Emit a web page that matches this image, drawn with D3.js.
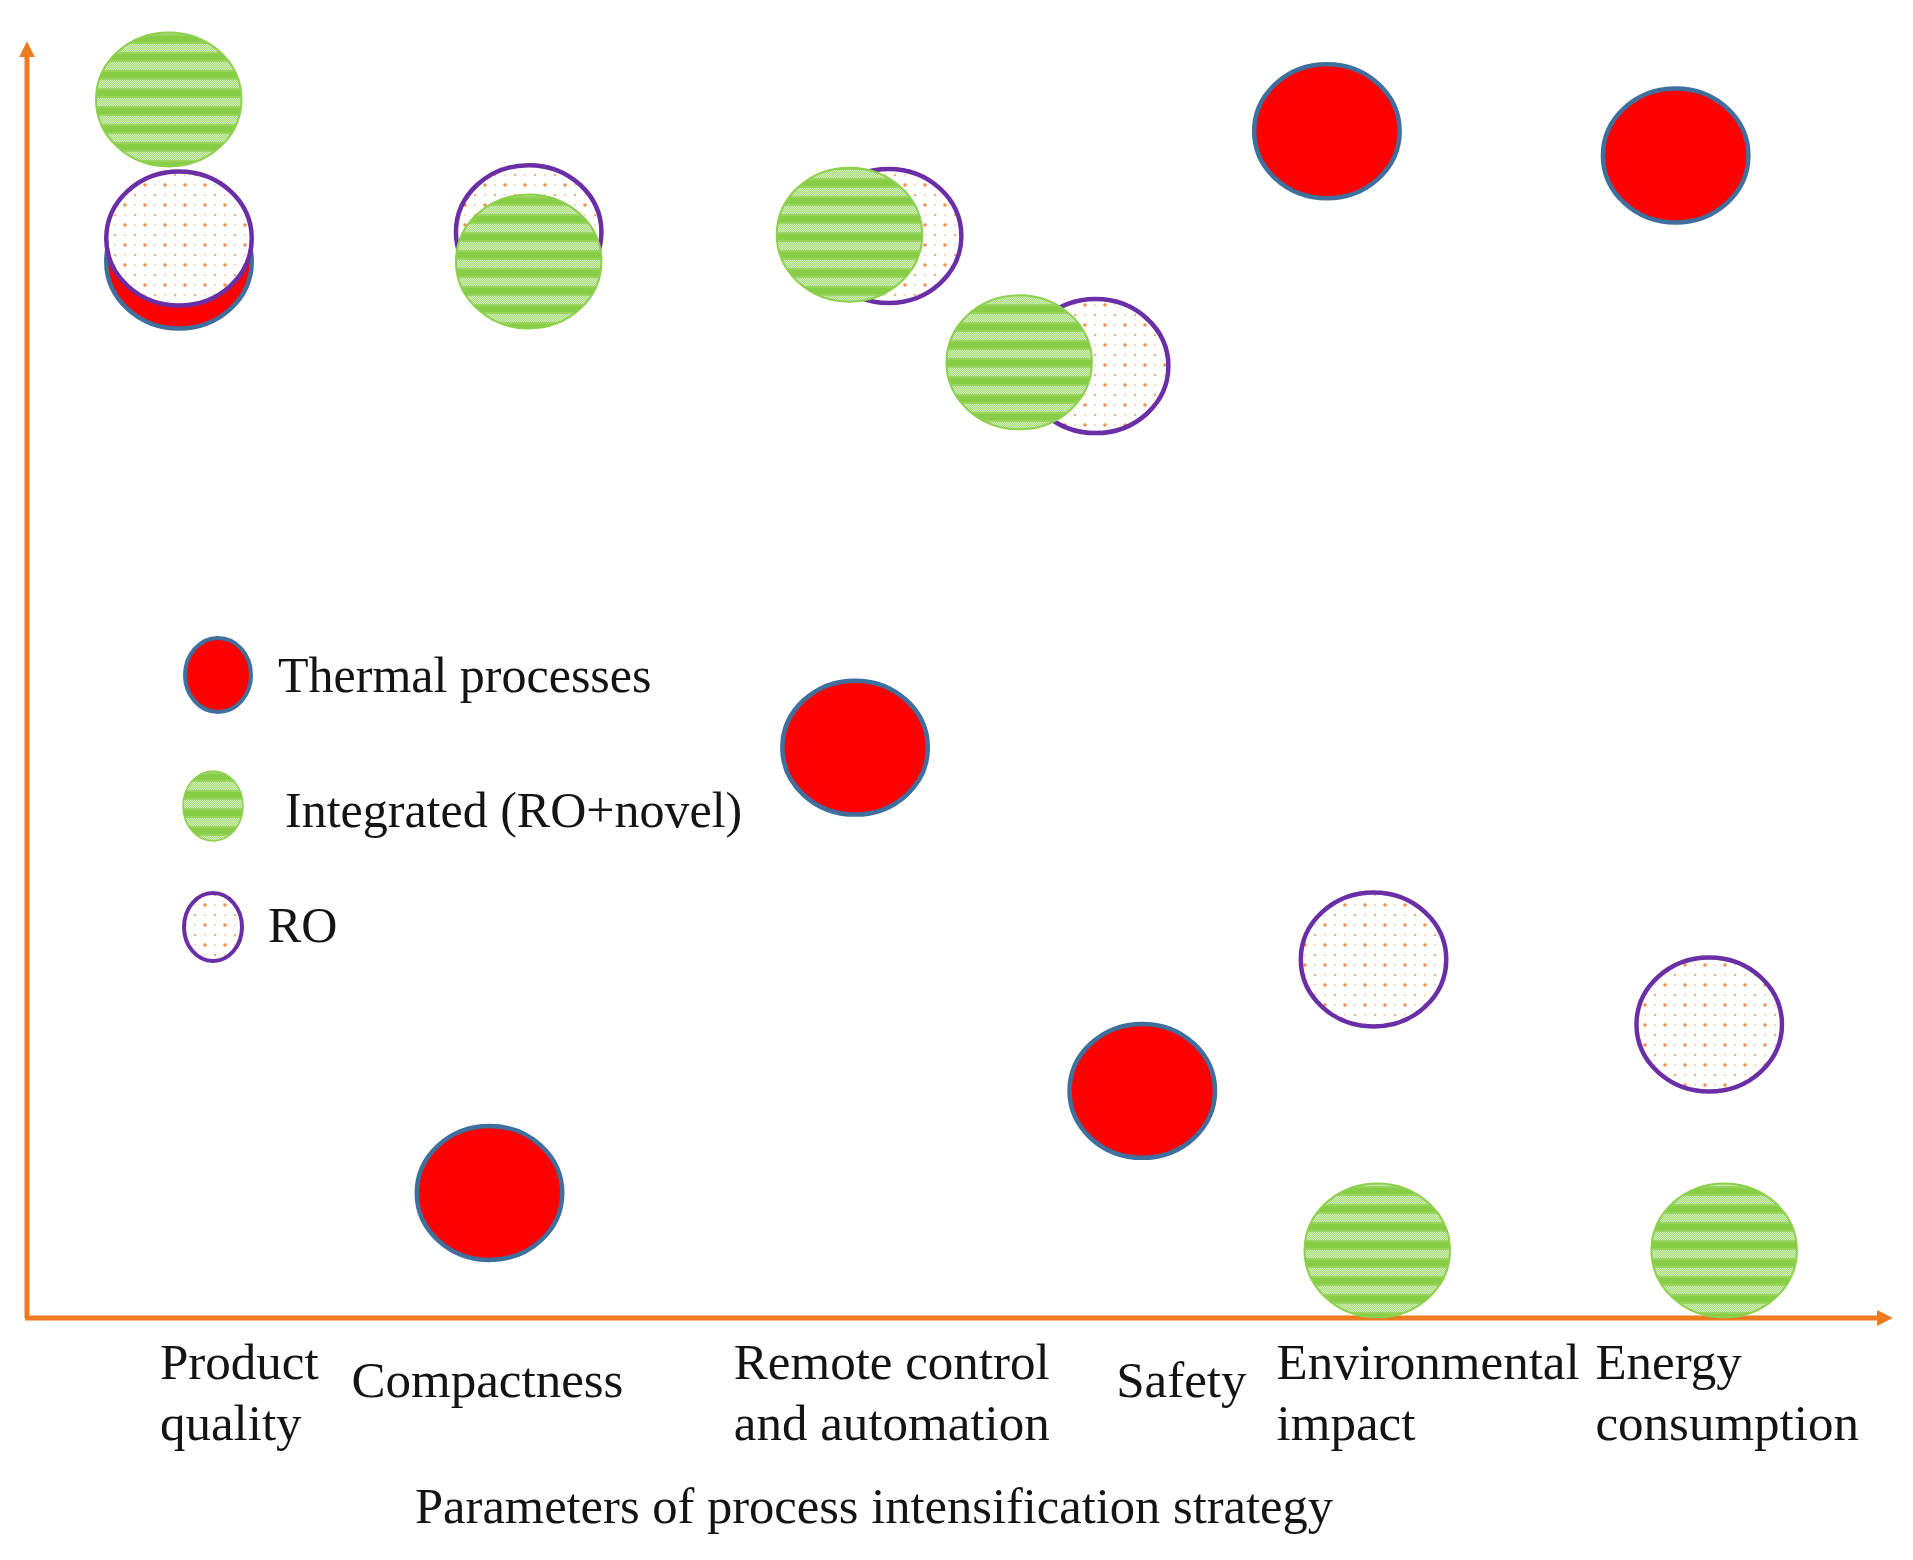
<!DOCTYPE html>
<html>
<head>
<meta charset="utf-8">
<script src="https://cdn.jsdelivr.net/npm/d3@7"></script>
<style>
  html, body { margin: 0; padding: 0; background: #fff; }
  svg { display: block; }
  text { font-family: "Liberation Serif", "Times New Roman", "DejaVu Serif", serif; fill: #141414; }
</style>
</head>
<body>
<script>
// ---------------- data ----------------
const categories = ["Product quality", "Compactness", "Remote control and automation", "Safety", "Environmental impact", "Energy consumption"];
const categoryLines = [["Product", "quality"], ["Compactness"], ["Remote control", "and automation"], ["Safety"], ["Environmental", "impact"], ["Energy", "consumption"]];
const categoryX = [7.13, 17.4, 37.9, 58.4, 67.0, 84.1];

const seriesNames = ["Thermal processes", "Integrated (RO+novel)", "RO"];

const thermalX    = [8.15, 24.8, 44.4, 59.8, 69.7, 88.4];
const thermalY    = [82.8,  9.8, 44.7, 17.8, 93.0, 91.1];
const integratedX = [7.6, 26.9, 44.1, 53.2, 72.4, 91.0];
const integratedY = [95.5, 82.8, 84.9, 74.9, 5.3, 5.3];
const roX         = [8.15, 26.9, 46.2, 57.3, 72.2, 90.2];
const roY         = [84.6, 85.1, 84.8, 74.6, 28.1, 23.0];

const xTitle = "Parameters of process intensification strategy";

// ---------------- layout ----------------
const W = 1913, H = 1560;
const x = d3.scaleLinear().domain([0, 100]).range([27, 1892]);
const y = d3.scaleLinear().domain([0, 100]).range([1318, 42]);

const svg = d3.select("body").append("svg").attr("width", W).attr("height", H);
svg.append("rect").attr("width", W).attr("height", H).attr("fill", "#fff");

const defs = svg.append("defs");

// green horizontal-band pattern (soft light bands with fine checker)
const gp = defs.append("pattern").attr("id", "greenPat").attr("patternUnits", "userSpaceOnUse")
  .attr("width", 4).attr("height", 18);
gp.append("rect").attr("width", 4).attr("height", 18).attr("fill", "#88cd46");
gp.append("rect").attr("y", 6).attr("width", 4).attr("height", 2).attr("fill", "#98d45e");
gp.append("rect").attr("y", 16).attr("width", 4).attr("height", 2).attr("fill", "#98d45e");
for (let r = 8; r < 16; r++) {
  for (let c = 0; c < 4; c++) {
    gp.append("rect").attr("x", c).attr("y", r).attr("width", 1).attr("height", 1)
      .attr("fill", ((r + c) % 2 === 0) ? "#d3eebf" : "#a6dc76");
  }
}

// RO dotted pattern
const rp = defs.append("pattern").attr("id", "roPat").attr("patternUnits", "userSpaceOnUse")
  .attr("width", 20).attr("height", 20);
rp.append("rect").attr("width", 20).attr("height", 20).attr("fill", "#fff");
rp.append("circle").attr("cx", 5).attr("cy", 5).attr("r", 1.8).attr("fill", "#f0914e");
rp.append("circle").attr("cx", 15).attr("cy", 15).attr("r", 1.3).attr("fill", "#f5b07e");
rp.append("circle").attr("cx", 15).attr("cy", 5).attr("r", 1.0).attr("fill", "#f9cfae");
rp.append("circle").attr("cx", 5).attr("cy", 15).attr("r", 1.0).attr("fill", "#f9cfae");

// arrow markers
defs.append("marker").attr("id", "arrow").attr("viewBox", "0 0 10 10")
  .attr("refX", 2).attr("refY", 5).attr("markerWidth", 3.2).attr("markerHeight", 3.2)
  .attr("markerUnits", "strokeWidth").attr("orient", "auto")
  .append("path").attr("d", "M0,0 L10,5 L0,10 Z").attr("fill", "#ee7a22");

// ---------------- axes ----------------
const axisColor = "#ee7a22";
svg.append("line")
  .attr("x1", x(0)).attr("y1", y(0)).attr("x2", x(0)).attr("y2", y(100) + 12)
  .attr("stroke", axisColor).attr("stroke-width", 5).attr("marker-end", "url(#arrow)");
svg.append("line")
  .attr("x1", x(0) - 2).attr("y1", y(0)).attr("x2", x(100) - 12).attr("y2", y(0))
  .attr("stroke", axisColor).attr("stroke-width", 5).attr("marker-end", "url(#arrow)");

// ---------------- marks ----------------
const RX = x(3.9) - x(0);
const RY = y(0) - y(5.25);

const thermal = thermalX.map((v, i) => ({ x: v, y: thermalY[i], cat: categories[i] }));
const integrated = integratedX.map((v, i) => ({ x: v, y: integratedY[i], cat: categories[i] }));
const ro = roX.map((v, i) => ({ x: v, y: roY[i], cat: categories[i] }));

const marks = svg.append("g");
marks.selectAll("ellipse.thermal").data(thermal).join("ellipse").attr("class", "thermal")
  .attr("cx", d => x(d.x)).attr("cy", d => y(d.y)).attr("rx", RX).attr("ry", RY)
  .attr("fill", "#ff0000").attr("stroke", "#3f6f9c").attr("stroke-width", 4.5);
marks.selectAll("ellipse.ro").data(ro).join("ellipse").attr("class", "ro")
  .attr("cx", d => x(d.x)).attr("cy", d => y(d.y)).attr("rx", RX).attr("ry", RY)
  .attr("fill", "url(#roPat)").attr("stroke", "#6a2fa6").attr("stroke-width", 4.5);
marks.selectAll("ellipse.integ").data(integrated).join("ellipse").attr("class", "integ")
  .attr("cx", d => x(d.x)).attr("cy", d => y(d.y)).attr("rx", RX).attr("ry", RY)
  .attr("fill", "url(#greenPat)").attr("stroke", "#8dd04e").attr("stroke-width", 2);

// ---------------- category labels ----------------
const lab = svg.append("g").attr("font-size", 51);
categoryLines.forEach((lines, i) => {
  const t = lab.append("text").attr("x", x(categoryX[i]));
  if (lines.length === 2) {
    t.attr("y", y(0) + 61);
    t.append("tspan").attr("x", x(categoryX[i])).text(lines[0]);
    t.append("tspan").attr("x", x(categoryX[i])).attr("dy", 61).text(lines[1]);
  } else {
    t.attr("y", y(0) + 79).text(lines[0]);
  }
});

svg.append("text").attr("x", 415).attr("y", y(0) + 205).attr("font-size", 51)
  .attr("textLength", 918).attr("lengthAdjust", "spacingAndGlyphs").text(xTitle);

// ---------------- legend ----------------
const legendStyles = [
  { fill: "#ff0000", stroke: "#3f6f9c", sw: 4, cx: 218, cy: 675, rx: 33, ry: 37, tx: 278, ty: 692 },
  { fill: "url(#greenPat)", stroke: "#8dd04e", sw: 1.5, cx: 213, cy: 806, rx: 30, ry: 35, tx: 285, ty: 827 },
  { fill: "url(#roPat)", stroke: "#6a2fa6", sw: 4, cx: 213, cy: 927, rx: 29, ry: 34, tx: 268, ty: 942 }
];
const leg = svg.append("g");
seriesNames.forEach((name, i) => {
  const s = legendStyles[i];
  leg.append("ellipse").attr("cx", s.cx).attr("cy", s.cy).attr("rx", s.rx).attr("ry", s.ry)
    .attr("fill", s.fill).attr("stroke", s.stroke).attr("stroke-width", s.sw);
  leg.append("text").attr("x", s.tx).attr("y", s.ty).attr("font-size", 50).text(name);
});
</script>
</body>
</html>
